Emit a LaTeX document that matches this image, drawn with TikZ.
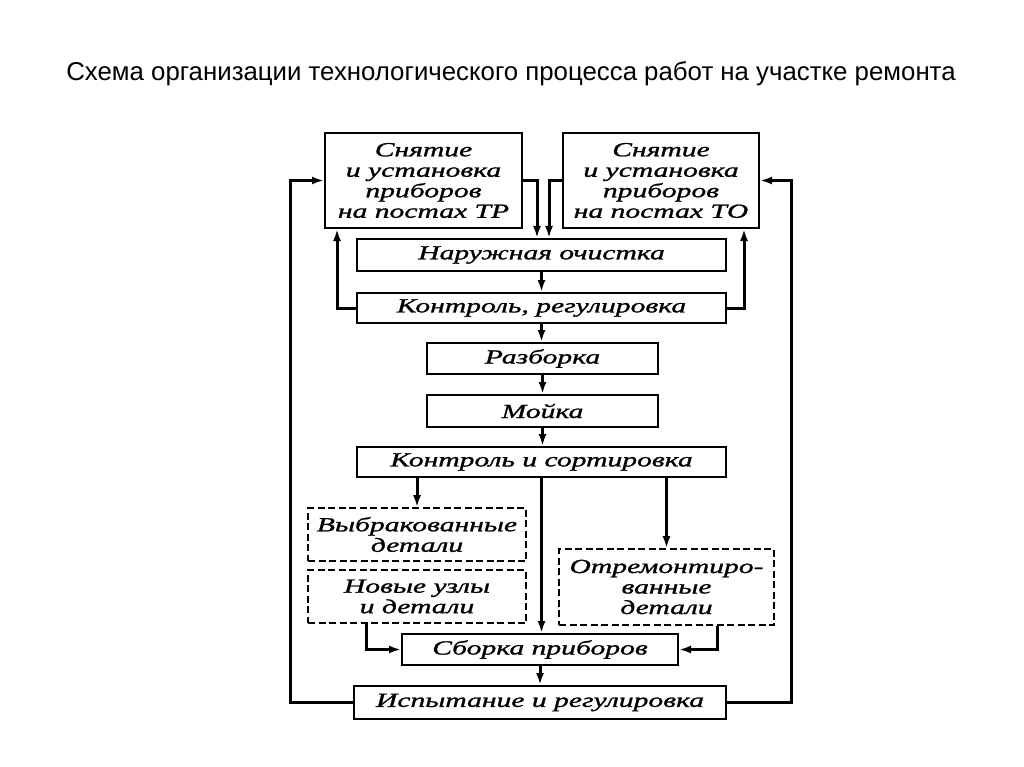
\documentclass[tikz,border=0pt]{standalone}
\usepackage{fontspec}
\setmainfont{Liberation Sans}
\newfontfamily\gost[ItalicFeatures={FakeStretch=1.48,FakeBold=1.2},
	FakeStretch=1.48]{Liberation Serif}
\usetikzlibrary{arrows.meta}

\begin{document}
\begin{tikzpicture}[x=1pt,y=-1pt,
	box/.style={draw, line width=2pt, inner sep=0pt, align=center,
		font=\gost\itshape\fontsize{20}{20.5}\selectfont},
	dbox/.style={box, line width=1.6pt, dash pattern=on 7pt off 3.5pt},
	arr/.style={line width=3pt, -{Latex[length=12pt,width=8pt]}}]
	
	\useasboundingbox (0,0) rectangle (1024,767);
	
	% title
	\node[anchor=base, font=\fontsize{25.8}{30}\selectfont] (title) at (511,81)
		{Схема организации технологического процесса работ на участке ремонта};
	
	% top boxes
	\node[box, minimum width=197, minimum height=95] (tr) at (423.5,180.5)
		{Снятие\\и установка\\приборов\\на постах ТР};
	\node[box, minimum width=196, minimum height=95] (to) at (661,180.5)
		{Снятие\\и установка\\приборов\\на постах ТО};
	
	% main column
	\node[box, minimum width=369, minimum height=32] (clean) at (541.5,255) {Наружная очистка};
	\node[box, minimum width=369, minimum height=30] (ctrl) at (541.5,308) {Контроль, регулировка};
	\node[box, minimum width=231, minimum height=31] (razb) at (542.5,358.5) {Разборка};
	\node[box, minimum width=231, minimum height=32] (wash) at (542.5,411) {Мойка};
	\node[box, minimum width=369, minimum height=30] (sort) at (541.5,462) {Контроль и сортировка};
	
	% dashed boxes
	\node[dbox, minimum width=218, minimum height=53] (reject) at (417,534.5) {Выбракованные\\детали};
	\node[dbox, minimum width=218, minimum height=53] (new) at (417,596.5) {Новые узлы\\и детали};
	\node[dbox, minimum width=215, minimum height=76] (rep) at (666.5,587) {Отремонтиро-\\ванные\\детали};
	
	% bottom
	\node[box, minimum width=276, minimum height=31] (asm) at (540,649.5) {Сборка приборов};
	\node[box, minimum width=372, minimum height=33] (test) at (540,702.5) {Испытание и регулировка};
	
	%draw top connections
	\draw[arr] (tr.east) -| ([xshift=-4.5pt]clean.north);
	\draw[arr] (to.west) -| ([xshift=7.5pt]clean.north);
	\draw[arr] (clean.south) -- (clean.south |- ctrl.north);
	\draw[arr] (ctrl.west) -| ([xshift=13pt]tr.south west);
	\draw[arr] (ctrl.east) -| ([xshift=-16pt]to.south east);
	
	%draw main column
	\draw[arr] (ctrl.south) -- (ctrl.south |- razb.north);
	\draw[arr] (razb.south) -- (wash.north);
	\draw[arr] (wash.south) -- (wash.south |- sort.north);
	
	%draw sorting
	\draw[arr] (reject.north |- sort.south) -- (reject.north);
	\draw[arr] (sort.south) -- (sort.south |- asm.north);
	\draw[arr] (rep.north |- sort.south) -- (rep.north);
	\draw[arr] ([xshift=59pt]new.south west) |- (asm.west);
	\draw[arr] ([xshift=-57pt]rep.south east) |- (asm.east);
	\draw[arr] (asm.south) -- (asm.south |- test.north);
	
	%draw return loops
	\draw[arr] (test.west) -- ++(-63,0) |- (tr.west);
	\draw[arr] (test.east) -- ++(64,0) |- (to.east);
	
\end{tikzpicture}
\end{document}
